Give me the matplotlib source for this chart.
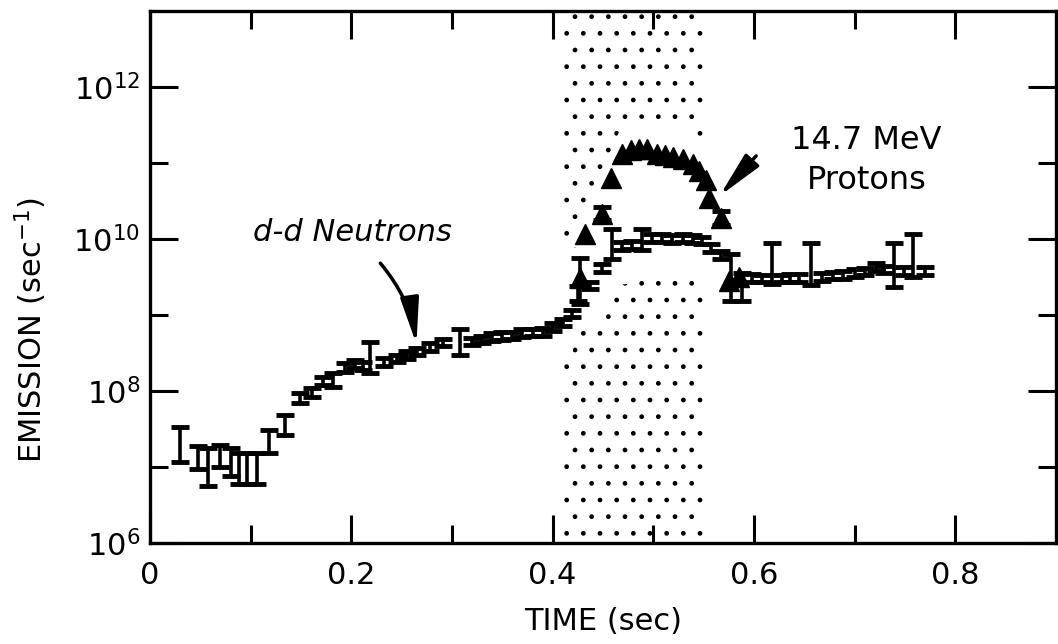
import numpy as np
import matplotlib
matplotlib.use("Agg")
import matplotlib.pyplot as plt
from matplotlib.ticker import FixedLocator, NullFormatter, LogFormatterMathtext

# d-d neutron emission, log10 values
n_t = [0.030, 0.048, 0.058, 0.070, 0.080, 0.088, 0.096, 0.106, 0.118, 0.134,
       0.149, 0.161, 0.172, 0.182, 0.194, 0.204, 0.212, 0.219, 0.232, 0.245,
       0.255, 0.265, 0.278, 0.291, 0.308, 0.320, 0.330, 0.340, 0.350, 0.360,
       0.370, 0.380, 0.390, 0.400, 0.410, 0.419, 0.425, 0.437, 0.449, 0.459,
       0.469, 0.479, 0.489, 0.499, 0.509, 0.519, 0.529, 0.539, 0.548, 0.557,
       0.567, 0.577, 0.588, 0.598, 0.608, 0.618, 0.628, 0.636, 0.645, 0.657,
       0.668, 0.678, 0.688, 0.700, 0.710, 0.721, 0.729, 0.739, 0.749, 0.758,
       0.770]
n_log = [7.29, 7.12, 7.00, 7.15, 7.05, 6.98, 6.98, 6.98, 7.35, 7.55,
         7.90, 7.98, 8.13, 8.15, 8.31, 8.36, 8.33, 8.44, 8.38, 8.43,
         8.47, 8.52, 8.58, 8.64, 8.64, 8.65, 8.68, 8.71, 8.72, 8.73,
         8.76, 8.77, 8.78, 8.84, 8.90, 9.02, 9.28, 9.39, 9.62, 9.91,
         9.91, 9.92, 9.97, 10.01, 10.01, 10.00, 10.01, 10.00, 9.98, 9.88,
         9.79, 9.49, 9.45, 9.49, 9.48, 9.49, 9.48, 9.49, 9.49, 9.49,
         9.50, 9.52, 9.53, 9.55, 9.57, 9.63, 9.60, 9.58, 9.58, 9.58,
         9.58]
# error bar ends (log10)
n_lo = [7.06, 6.97, 6.75, 7.00, 6.88, 6.77, 6.77, 6.77, 7.19, 7.42,
        7.84, 7.92, 8.08, 8.05, 8.25, 8.30, 8.28, 8.24, 8.33, 8.38,
        8.42, 8.47, 8.53, 8.59, 8.47, 8.60, 8.63, 8.66, 8.67, 8.68,
        8.71, 8.72, 8.73, 8.79, 8.85, 8.97, 9.18, 9.34, 9.57, 9.74,
        9.86, 9.87, 9.85, 9.96, 9.96, 9.95, 9.96, 9.95, 9.93, 9.83,
        9.74, 9.19, 9.19, 9.44, 9.43, 9.41, 9.43, 9.44, 9.44, 9.40,
        9.45, 9.47, 9.48, 9.50, 9.52, 9.58, 9.55, 9.37, 9.53, 9.50,
        9.53]
n_hi = [7.52, 7.27, 7.25, 7.29, 7.25, 7.19, 7.19, 7.19, 7.49, 7.69,
        7.97, 8.04, 8.18, 8.24, 8.37, 8.41, 8.38, 8.64, 8.43, 8.48,
        8.52, 8.57, 8.63, 8.69, 8.82, 8.70, 8.73, 8.76, 8.77, 8.78,
        8.81, 8.82, 8.83, 8.89, 8.95, 9.07, 9.38, 9.44, 9.67, 10.13,
        9.96, 9.97, 10.13, 10.06, 10.06, 10.05, 10.06, 10.05, 10.03, 9.93,
        9.84, 9.80, 9.55, 9.54, 9.53, 9.95, 9.53, 9.54, 9.54, 9.95,
        9.55, 9.57, 9.58, 9.60, 9.62, 9.68, 9.65, 9.95, 9.63, 10.07,
        9.63]

# 14.7 MeV protons
p_t = [0.427, 0.432, 0.449, 0.458, 0.469, 0.478, 0.486, 0.494, 0.504, 0.512,
       0.520, 0.529, 0.539, 0.545, 0.552, 0.555, 0.567, 0.575, 0.585]
p_log = [9.49, 10.07, 10.33, 10.80, 11.12, 11.17, 11.19, 11.18, 11.12, 11.11,
         11.08, 11.05, 10.98, 10.89, 10.78, 10.54, 10.27, 9.45, 9.50]
p_lo = [9.15, 10.07, 10.25, 10.80, 11.12, 11.17, 11.19, 11.18, 11.12, 11.11,
        11.08, 11.05, 10.98, 10.89, 10.78, 10.54, 10.18, 9.45, 9.50]
p_hi = [9.75, 10.07, 10.42, 10.80, 11.12, 11.17, 11.19, 11.18, 11.12, 11.11,
        11.08, 11.05, 10.98, 10.89, 10.78, 10.54, 10.37, 9.45, 9.50]

# shaded time window
shade_t = [0.41, 0.55]

x_ticks = [0, 0.2, 0.4, 0.6, 0.8]
x_labels = ["0", "0.2", "0.4", "0.6", "0.8"]
x_minor = [0.1, 0.3, 0.5, 0.7]
y_ticks = [1e6, 1e8, 1e10, 1e12]
y_minor = [1e7, 1e9, 1e11]

plt.rcParams['font.family'] = ['DejaVu Sans']
plt.rcParams['hatch.linewidth'] = 1.0

fig = plt.figure(figsize=(10.58, 6.44), dpi=100)
ax = fig.add_axes([0.1418, 0.1568, 0.8563, 0.8262])

ax.set_yscale('log')
ax.set_xlim(0, 0.9)
ax.set_ylim(1e6, 1e13)

# stippled window, with the area around the curves left clear
ax.axvspan(shade_t[0], shade_t[1], facecolor='none', edgecolor='black',
           hatch='.', linewidth=0, zorder=1)
xs = np.linspace(shade_t[0], shade_t[1], 200)
low = 10 ** (np.interp(xs, n_t, n_log) - 0.5)
up = 10 ** (np.interp(xs, p_t, p_log) + 0.4)
ax.fill_between(xs, low, up, color='white', linewidth=0, zorder=2)

def to_err(logv, lo, hi):
    v = 10 ** np.array(logv)
    return v, np.vstack([v - 10 ** np.array(lo), 10 ** np.array(hi) - v])

nv, nerr = to_err(n_log, n_lo, n_hi)
ax.errorbar(n_t, nv, yerr=nerr, fmt='none', ecolor='black', elinewidth=2.6,
            capsize=6.3, capthick=3.5, zorder=4)

pv, perr = to_err(p_log, p_lo, p_hi)
has_err = np.array(p_hi) > np.array(p_lo)
ax.errorbar(np.array(p_t)[has_err], pv[has_err], yerr=perr[:, has_err],
            fmt='none', ecolor='black', elinewidth=2.6, capsize=6.3,
            capthick=3.5, zorder=4)
ax.plot(p_t, pv, linestyle='none', marker='^', markersize=15,
        color='black', zorder=5)

# labels and arrows
ax.text(0.201, 10 ** 10.08, "d-d Neutrons", style='italic', fontsize=22,
        ha='center', va='center', zorder=6)
ax.annotate('', xy=(0.265, 10 ** 8.58), xytext=(0.227, 10 ** 9.71),
            arrowprops=dict(arrowstyle='-|>,head_length=1.4,head_width=0.28',
                            connectionstyle='arc3,rad=-0.15', lw=2.5,
                            color='black', mutation_scale=20), zorder=6)

ax.text(0.712, 10 ** 11.03, "14.7 MeV\nProtons", fontsize=23,
        ha='center', va='center', linespacing=1.35, zorder=6)
ax.annotate('', xy=(0.564, 10 ** 10.54), xytext=(0.604, 10 ** 11.12),
            arrowprops=dict(arrowstyle='-|>,head_length=1.4,head_width=0.28',
                            lw=2.5, color='black', mutation_scale=20), zorder=6)

ax.set_xticks(x_ticks)
ax.set_xticklabels(x_labels)
ax.xaxis.set_minor_locator(FixedLocator(x_minor))
ax.yaxis.set_major_locator(FixedLocator(y_ticks))
ax.yaxis.set_major_formatter(LogFormatterMathtext())
ax.yaxis.set_minor_locator(FixedLocator(y_minor))
ax.yaxis.set_minor_formatter(NullFormatter())

ax.tick_params(which='both', direction='in', top=True, right=True, width=2.2)
ax.tick_params(which='major', length=20, labelsize=22)
ax.tick_params(axis='x', which='major', pad=13)
ax.tick_params(axis='y', which='major', pad=7)
ax.tick_params(which='minor', length=13)
for s in ax.spines.values():
    s.set_linewidth(2.4)

ax.set_xlabel("TIME (sec)", fontsize=22, labelpad=12)
ax.set_ylabel("EMISSION (sec$^{-1}$)", fontsize=22)
ax.yaxis.set_label_coords(-0.112, 0.40)

fig.savefig("out.png", dpi=100)
